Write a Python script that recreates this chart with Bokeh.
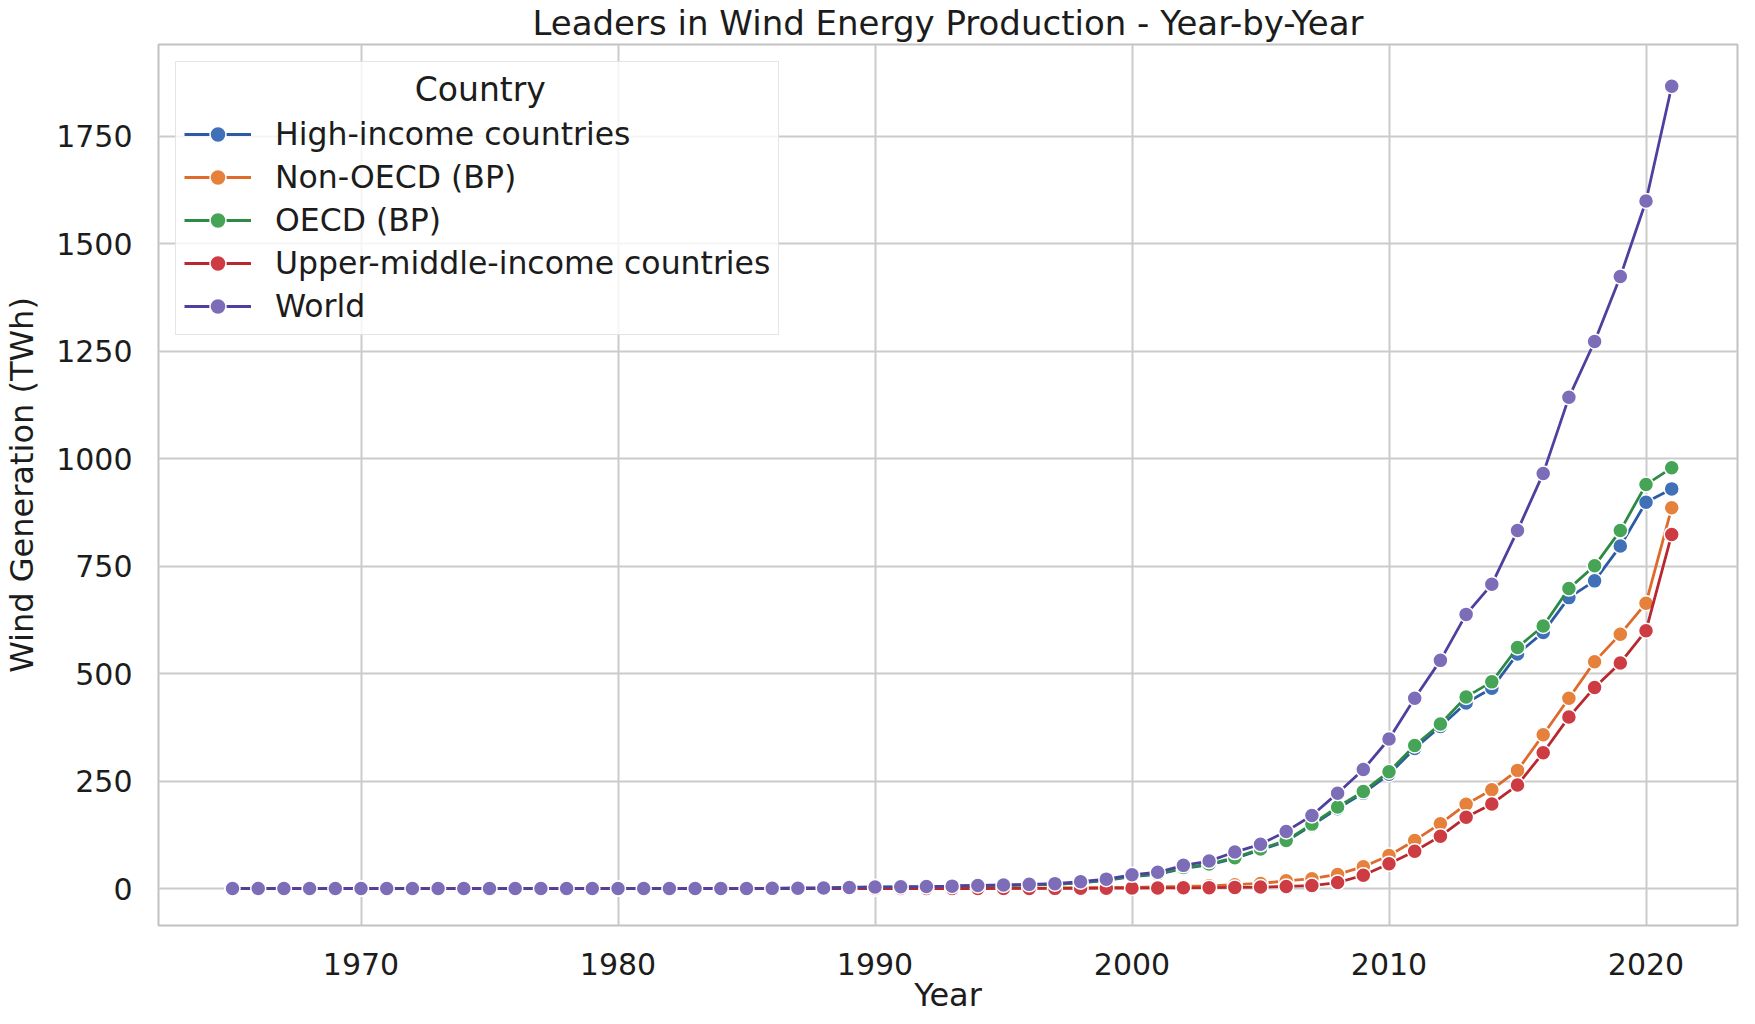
from bokeh.plotting import figure
from bokeh.models import Range1d, Legend, LegendItem, FixedTicker
from bokeh.embed import file_html
from bokeh.resources import INLINE

years = list(range(1965, 2022))

high_income = [0, 0, 0, 0, 0, 0, 0, 0, 0, 0, 0, 0, 0, 0, 0, 0, 0, 0,
               0.0, 0.1, 0.2, 0.5, 0.8, 1.2, 2.5, 3.5, 4.0, 4.5, 5.4, 6.9,
               7.3, 8.4, 9.7, 13.6, 19, 28, 33, 47, 55, 70, 90, 110, 147, 186,
               222, 266, 326, 377, 432, 466, 546, 596, 677, 716, 797, 899, 930]
non_oecd = [0, 0, 0, 0, 0, 0, 0, 0, 0, 0, 0, 0, 0, 0, 0, 0, 0, 0,
            0, 0, 0, 0, 0, 0, 0, 0.0, 0.1, 0.1, 0.2, 0.3,
            1.0, 1.2, 1.5, 2.0, 2.5, 3.0, 4.0, 5.0, 6.5, 9.0, 12, 18, 23, 33,
            51, 77, 112, 151, 196, 230, 275, 358, 443, 528, 592, 664, 886]
oecd = [0, 0, 0, 0, 0, 0, 0, 0, 0, 0, 0, 0, 0, 0, 0, 0, 0, 0,
        0.0, 0.1, 0.2, 0.5, 0.8, 1.2, 2.5, 3.6, 4.0, 4.6, 5.5, 7.0,
        7.5, 8.6, 10.0, 14.0, 19.5, 29, 34, 49, 57, 72, 92, 112, 150, 190,
        226, 272, 333, 383, 446, 481, 561, 611, 698, 751, 833, 940, 979]
upper_middle = [0, 0, 0, 0, 0, 0, 0, 0, 0, 0, 0, 0, 0, 0, 0, 0, 0, 0,
                0, 0, 0, 0, 0, 0, 0, 0.0, 0.0, 0.1, 0.1, 0.2,
                0.3, 0.4, 0.5, 0.7, 0.9, 1.2, 1.5, 1.8, 2.2, 2.8, 3.5, 5, 7, 14,
                31, 58, 87, 122, 166, 197, 241, 316, 399, 468, 525, 600, 824]
world = [0, 0, 0, 0, 0, 0, 0, 0, 0, 0, 0, 0, 0, 0, 0, 0, 0, 0,
         0.0, 0.1, 0.2, 0.5, 0.8, 1.2, 2.5, 3.6, 4.1, 4.7, 5.7, 7.3,
         8.5, 9.8, 11.5, 16, 22, 32, 38, 54, 64, 85, 103, 133, 170, 222,
         277, 348, 443, 531, 638, 708, 833, 966, 1143, 1273, 1424, 1600, 1867]

countries = ["High-income countries", "Non-OECD (BP)", "OECD (BP)",
             "Upper-middle-income countries", "World"]
series = [high_income, non_oecd, oecd, upper_middle, world]
marker_colors = ["#3F70B8", "#E6813B", "#45A455", "#CD3C42", "#7D6DB9"]
line_colors = ["#2C5BA6", "#DE6A2C", "#2D8A45", "#B8282E", "#4E409F"]

x_ticks = [1970, 1980, 1990, 2000, 2010, 2020]
y_ticks = [0, 250, 500, 750, 1000, 1250, 1500, 1750]

FONT = "DejaVu Sans"
TXT = "#1c1c1c"

p = figure(width=1739, height=1016, output_backend="svg", toolbar_location=None,
           x_range=Range1d(1962.12, 2023.56), y_range=Range1d(-85.9, 1964),
           min_border_left=150, min_border_right=2, min_border_top=44,
           min_border_bottom=89,
           title="Leaders in Wind Energy Production - Year-by-Year")
p.title.align = "center"
p.title.vertical_align = "top"
p.title.offset = 6
p.title.text_font = FONT
p.title.text_font_size = "34px"
p.title.text_font_style = "normal"
p.title.text_color = TXT
p.title.standoff = 0

p.background_fill_color = "white"
p.border_fill_color = "white"
p.outline_line_color = "#c2c2c2"
p.outline_line_width = 2

for ax in (p.xaxis, p.yaxis):
    ax.axis_line_color = None
    ax.major_tick_line_color = None
    ax.minor_tick_line_color = None
    ax.major_tick_out = 0
    ax.major_tick_in = 0
    ax.minor_tick_out = 0
    ax.minor_tick_in = 0
    ax.major_label_text_font = FONT
    ax.major_label_text_font_size = "30px"
    ax.major_label_text_color = TXT
    ax.axis_label_text_font = FONT
    ax.axis_label_text_font_size = "32px"
    ax.axis_label_text_font_style = "normal"
    ax.axis_label_text_color = TXT

p.xaxis.ticker = FixedTicker(ticks=x_ticks)
p.yaxis.ticker = FixedTicker(ticks=y_ticks)
p.xaxis.axis_label = "Year"
p.yaxis.axis_label = "Wind Generation (TWh)"
p.xaxis.major_label_standoff = 27
p.xaxis.axis_label_standoff = -2
p.yaxis.major_label_standoff = 26
p.yaxis.axis_label_standoff = 12

p.xgrid.grid_line_color = "#cbcbcb"
p.ygrid.grid_line_color = "#cbcbcb"
p.xgrid.grid_line_width = 2
p.ygrid.grid_line_width = 2

items = []
for name, vals, mc, lc in zip(countries, series, marker_colors, line_colors):
    lr = p.line(years, vals, line_color=lc, line_width=2.8)
    sr = p.scatter(years, vals, size=15, fill_color=mc, line_color="white",
                   line_width=1.5)
    items.append(LegendItem(label=name, renderers=[lr, sr]))

legend = Legend(items=items, location="top_left", margin=17, padding=8,
                spacing=3, glyph_width=67, glyph_height=40, label_standoff=24,
                label_text_font=FONT, label_text_font_size="31.5px",
                label_text_color=TXT,
                title="\u00a0" * 22 + "Country", title_text_font=FONT,
                title_text_font_size="33px", title_text_font_style="normal",
                title_text_color=TXT, title_standoff=5,
                border_line_color="#cccccc", border_line_width=1.5,
                background_fill_color="white", background_fill_alpha=0.8)
p.add_layout(legend)

open("out.html", "w").write(file_html(p, INLINE))
